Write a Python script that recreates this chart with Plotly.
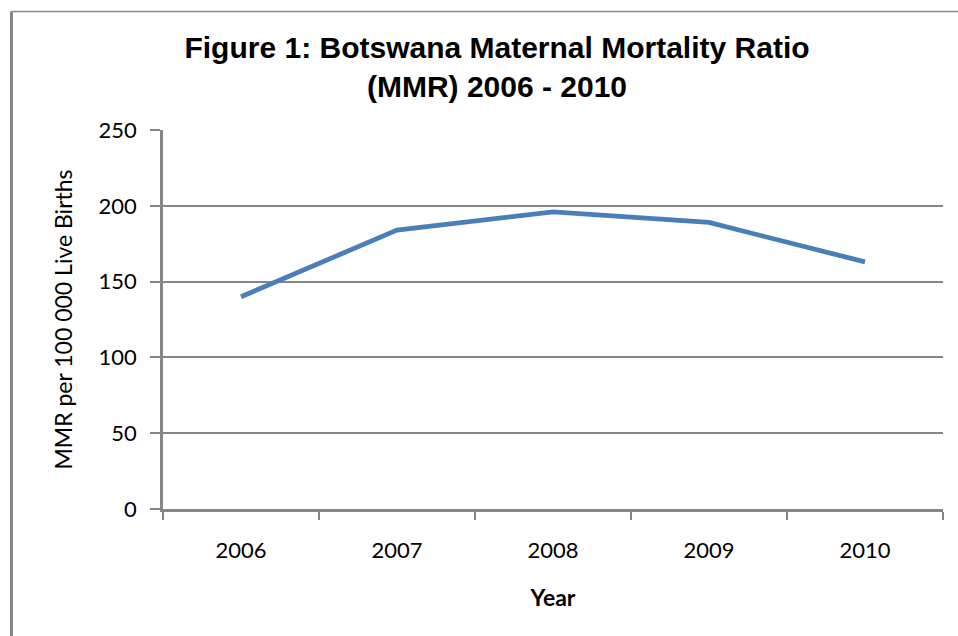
import plotly.graph_objects as go

years = ["2006", "2007", "2008", "2009", "2010"]
mmr = [140, 184, 196, 189, 163]
y_ticks = [0, 50, 100, 150, 200, 250]

title_text = "Figure 1: Botswana Maternal Mortality Ratio<br>(MMR) 2006 - 2010"
x_title = "Year"
y_title = "MMR per 100 000 Live Births"

GRAY = "#868686"
LINE = "#4a7ebb"
TICKFONT = "Lato, Open Sans, sans-serif"

fig = go.Figure()
fig.add_trace(go.Scatter(
    x=years, y=mmr, mode="lines",
    line=dict(color=LINE, width=4.8),
    hoverinfo="x+y", showlegend=False,
))

W, H = 958, 636
PX0, PX1 = 163, 943   # plot area, page pixels
PY0, PY1 = 130, 509
L, R = PX0, W - PX1
T, B = PY0, H - PY1

def px_x(p):
    return (p - PX0) / (PX1 - PX0)

def px_y(p):
    return (PY1 - p) / (PY1 - PY0)

fig.update_layout(
    width=W, height=H,
    margin=dict(l=L, r=R, t=T, b=B, autoexpand=False),
    paper_bgcolor="white", plot_bgcolor="white",
    title=dict(
        text=title_text,
        x=497 / W, xanchor="center",
        y=1 - 58 / H, yanchor="middle",
        font=dict(family="Liberation Sans, Arial", size=30, color="#000000", weight="bold"),
    ),
    xaxis=dict(
        type="category",
        range=[-0.5, 4.5],
        tickson="boundaries",
        ticks="outside", ticklen=8, tickcolor=GRAY, tickwidth=1.5,
        showline=True, linecolor=GRAY, linewidth=2.5,
        showgrid=False, zeroline=False,
        tickfont=dict(family=TICKFONT, size=22, color="#000"),
        title=dict(text="<b>" + x_title + "</b>", standoff=28,
                   font=dict(family=TICKFONT, size=23, color="#000")),
        ticklabelstandoff=20,
        fixedrange=True,
    ),
    yaxis=dict(
        range=[0, 250],
        tickvals=y_ticks,
        ticks="outside", ticklen=10, tickcolor=GRAY, tickwidth=1.5,
        showline=True, linecolor=GRAY, linewidth=2.5,
        showgrid=True, gridcolor=GRAY, gridwidth=1.5,
        zeroline=False,
        tickfont=dict(family=TICKFONT, size=22, color="#000"),
        ticklabelstandoff=9,
        title=dict(text=y_title, standoff=20,
                   font=dict(family=TICKFONT, size=23, color="#000")),
        fixedrange=True,
    ),
    shapes=[
        dict(type="line", xref="paper", yref="paper",
             x0=px_x(11.5), x1=px_x(960), y0=px_y(11.5), y1=px_y(11.5),
             line=dict(color=GRAY, width=1.5)),
        dict(type="line", xref="paper", yref="paper",
             x0=px_x(11.5), x1=px_x(11.5), y0=px_y(11.5), y1=px_y(640),
             line=dict(color=GRAY, width=3)),
    ],
)

fig.write_html(
    "out.html",
    config={"displayModeBar": False},
    post_script="document.body.style.margin='0';document.body.style.overflow='hidden';",
)
